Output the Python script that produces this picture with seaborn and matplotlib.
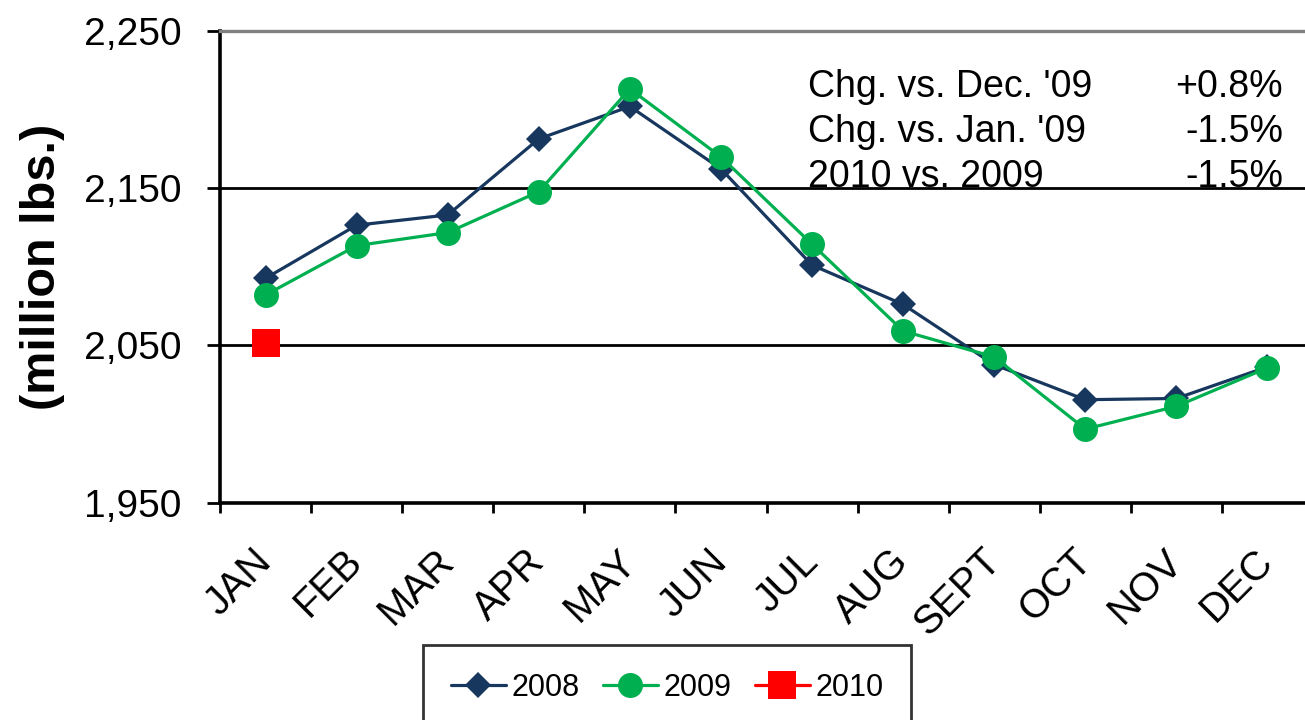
"""
Monthly volume chart, 2008-2010 (million lbs.)
"""

import matplotlib
matplotlib.use("Agg")
import numpy as np
import pandas as pd
import seaborn as sns
import matplotlib.pyplot as plt
from matplotlib.ticker import FixedLocator, StrMethodFormatter

# data
months = ["JAN", "FEB", "MAR", "APR", "MAY", "JUN",
          "JUL", "AUG", "SEPT", "OCT", "NOV", "DEC"]
vals_2008 = [2092.7, 2126.5, 2133.0, 2181.4, 2202.0, 2162.3,
             2101.1, 2076.1, 2037.8, 2015.5, 2016.3, 2036.4]
vals_2009 = [2082.1, 2113.5, 2121.8, 2147.8, 2213.2, 2169.9,
             2114.4, 2059.2, 2042.7, 1996.8, 2011.3, 2035.8]
vals_2010 = [2051.6]

years = ["2008", "2009", "2010"]
colors = {"2008": "#17375E", "2009": "#00B050", "2010": "#FF0000"}
markers = {"2008": "D", "2009": "o", "2010": "s"}
msizes = {"2008": 13, "2009": 18, "2010": 20}

yticks = [1950, 2050, 2150, 2250]

notes_left = ["Chg. vs. Dec. '09", "Chg. vs. Jan. '09", "2010 vs. 2009"]
notes_right = ["+0.8%", "-1.5%", "-1.5%"]

# long form table
rows = []
for yr, vals in zip(years, [vals_2008, vals_2009, vals_2010]):
    for m, v in zip(months, vals):
        rows.append({"year": yr, "month": m, "value": v})
df = pd.DataFrame(rows)

sns.set_style("white")
plt.rcParams['font.family'] = ['Liberation Sans', 'DejaVu Sans']
plt.rcParams['text.color'] = 'black'
plt.rcParams['axes.labelcolor'] = 'black'
plt.rcParams['xtick.color'] = 'black'
plt.rcParams['ytick.color'] = 'black'

fig = plt.figure(figsize=(13.05, 7.2), dpi=100)
ax = fig.add_axes([220 / 1305, 1 - 502.7 / 720, 1093 / 1305, 471.7 / 720])

for yr in years:
    sub = df[df["year"] == yr]
    sns.lineplot(data=sub, x="month", y="value", ax=ax, color=colors[yr],
                 marker=markers[yr], markersize=msizes[yr],
                 markeredgewidth=0, linewidth=2.3, estimator=None,
                 sort=False, label=yr)

ax.set_xlim(-0.5, len(months) - 0.5)
ax.set_ylim(yticks[0], yticks[-1])
ax.set_yticks(yticks)
ax.yaxis.set_major_formatter(StrMethodFormatter("{x:,.0f}"))
ax.yaxis.grid(True, color="black", linewidth=2)
ax.xaxis.grid(False)

# spines
for side in ["left", "bottom"]:
    ax.spines[side].set_color("black")
    ax.spines[side].set_linewidth(2.6)
ax.spines["top"].set_color("#808080")
ax.spines["top"].set_linewidth(2.4)
ax.spines["right"].set_visible(False)

# ticks
ax.tick_params(axis="y", direction="out", length=9.5, width=2,
               pad=18, labelsize=28, left=True)
ax.tick_params(axis="x", which="major", length=0, labelsize=29, pad=38)
ax.xaxis.set_minor_locator(FixedLocator(np.arange(-0.5, len(months), 1)))
ax.tick_params(axis="x", which="minor", direction="out", length=7,
               width=2, bottom=True)
plt.setp(ax.get_xticklabels(), rotation=45, ha="right",
         rotation_mode="anchor", va="center")

ax.set_xlabel("")
ax.set_ylabel("(million lbs.)", fontsize=35, fontweight="bold")
ax.yaxis.set_label_coords(-0.1418, 0.5)

# change notes in the top right
for i, (left, right) in enumerate(zip(notes_left, notes_right)):
    yy = 1 - (97 + 45 * i) / 720
    ax.text(808 / 1305, yy, left, transform=fig.transFigure, fontsize=27,
            va="baseline", ha="left", zorder=0.3)
    ax.text(1283 / 1305, yy, right, transform=fig.transFigure, fontsize=27,
            va="baseline", ha="right", zorder=0.3)
ax.set_axisbelow(True)

# legend, sits partly below the bottom edge
handles, labels = ax.get_legend_handles_labels()
leg = ax.legend(handles, labels, loc="upper left",
                bbox_to_anchor=(423 / 1305, 1 - 645 / 720),
                bbox_transform=fig.transFigure, ncol=3, fontsize=22,
                frameon=True, fancybox=False, edgecolor="black",
                borderpad=0.9, borderaxespad=0, handlelength=1.8,
                handletextpad=0.2, columnspacing=0.75)
leg.get_frame().set_linewidth(2)

fig.savefig("out.png", dpi=100)
